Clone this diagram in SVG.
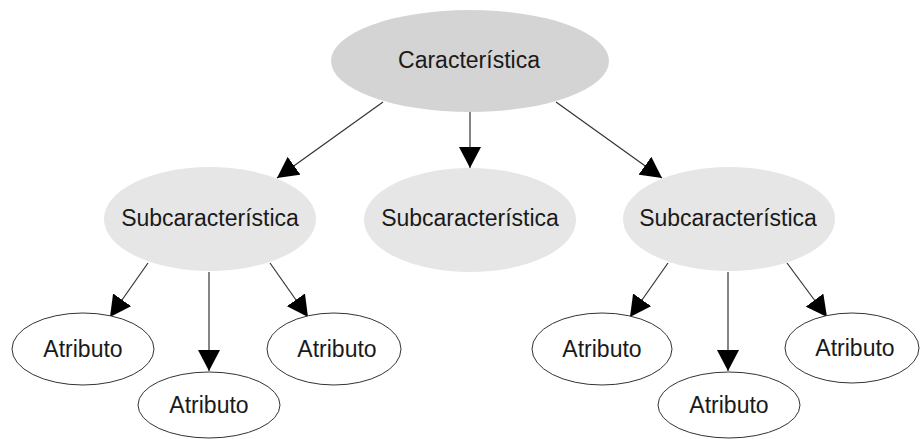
<svg xmlns="http://www.w3.org/2000/svg" width="920" height="439" viewBox="0 0 920 439">
<defs>
<style>
.lbl{font-family:"Liberation Sans",Arial,sans-serif;font-size:23px;fill:#1a1a1a;text-anchor:middle}
.top{fill:#d4d4d4;stroke:none}
.sub{fill:#e6e6e6;stroke:none}
.attr{fill:#ffffff;stroke:#333333;stroke-width:1}
.edge{stroke:#333333;stroke-width:1.2;fill:none;marker-end:url(#ah)}
</style>
<marker id="ah" viewBox="0 0 21 22" refX="21" refY="11" markerWidth="21" markerHeight="22" markerUnits="userSpaceOnUse" orient="auto">
<path d="M0,0 L21,11 L0,22 Z" fill="#000"/>
</marker>
</defs>
<rect width="920" height="439" fill="#fff"/>
<g id="connectors">
<line class="edge" x1="383" y1="102" x2="277" y2="178"/>
<line class="edge" x1="470" y1="112" x2="470" y2="168"/>
<line class="edge" x1="556" y1="102" x2="662" y2="178"/>
<line class="edge" x1="148" y1="263" x2="110" y2="317"/>
<line class="edge" x1="209" y1="272" x2="209" y2="371"/>
<line class="edge" x1="270" y1="263" x2="308" y2="317"/>
<line class="edge" x1="668" y1="263" x2="630" y2="317"/>
<line class="edge" x1="728" y1="272" x2="728" y2="371"/>
<line class="edge" x1="787" y1="263" x2="827" y2="317"/>
</g>
<g id="n-caracteristica">
<ellipse class="top" cx="470" cy="61" rx="139" ry="51"/>
<text class="lbl" x="469" y="68">Característica</text>
</g>
<g id="n-sub1">
<ellipse class="sub" cx="210" cy="219" rx="106" ry="52"/>
<text class="lbl" x="210" y="226">Subcaracterística</text>
</g>
<g id="n-sub2">
<ellipse class="sub" cx="470" cy="220" rx="106" ry="52"/>
<text class="lbl" x="470" y="226">Subcaracterística</text>
</g>
<g id="n-sub3">
<ellipse class="sub" cx="729" cy="219" rx="106" ry="52"/>
<text class="lbl" x="728" y="226">Subcaracterística</text>
</g>
<g id="n-attr1">
<ellipse class="attr" cx="83" cy="349" rx="71" ry="36"/>
<text class="lbl" x="83" y="357">Atributo</text>
</g>
<g id="n-attr2">
<ellipse class="attr" cx="209" cy="405" rx="71" ry="33"/>
<text class="lbl" x="209" y="413">Atributo</text>
</g>
<g id="n-attr3">
<ellipse class="attr" cx="334" cy="349" rx="67" ry="36"/>
<text class="lbl" x="337" y="357">Atributo</text>
</g>
<g id="n-attr4">
<ellipse class="attr" cx="602" cy="349" rx="70" ry="36"/>
<text class="lbl" x="602" y="357">Atributo</text>
</g>
<g id="n-attr5">
<ellipse class="attr" cx="729" cy="405" rx="71" ry="33"/>
<text class="lbl" x="729" y="413">Atributo</text>
</g>
<g id="n-attr6">
<ellipse class="attr" cx="852" cy="348" rx="67" ry="35"/>
<text class="lbl" x="855" y="356">Atributo</text>
</g>
</svg>
